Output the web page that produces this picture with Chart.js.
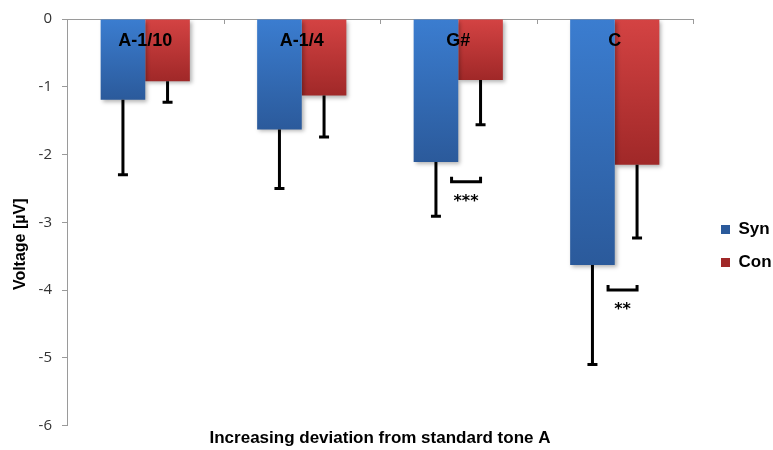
<!DOCTYPE html>
<html>
<head>
<meta charset="utf-8">
<script src="https://cdn.jsdelivr.net/npm/chart.js@4.4.1/dist/chart.umd.min.js"></script>
<style>
  html, body { margin: 0; padding: 0; background: #fff; }
  #wrap { width: 773px; height: 450px; }
</style>
</head>
<body>
<div id="wrap"><canvas id="chart"></canvas></div>
<script>
// ---- data ----
const categories = ['A-1/10', 'A-1/4', 'G#', 'C'];
const synValues = [-1.19, -1.63, -2.11, -3.63];
const conValues = [-0.92, -1.13, -0.90, -2.15];
const synErrors = [1.11, 0.87, 0.80, 1.47];
const conErrors = [0.31, 0.61, 0.66, 1.08];
const yTicks = [0, -1, -2, -3, -4, -5, -6];

// significance marks (category, level in µV, label)
const sigCategories = ['G#', 'C'];
const sigLevels = [-2.4, -4.0];
const sigLabels = ['***', '**'];

const AXIS_GRAY = '#9a9a9a';
const FONT = '"Liberation Sans", Arial, sans-serif';

function barGradient(top, bottom) {
  return (ctx) => {
    const chart = ctx.chart;
    if (!chart.chartArea || ctx.type !== 'data') return top;
    const y = chart.scales.y;
    const y0 = y.getPixelForValue(0);
    const y1 = y.getPixelForValue(ctx.raw);
    if (!isFinite(y0) || !isFinite(y1) || y0 === y1) return top;
    const g = chart.ctx.createLinearGradient(0, y0, 0, y1);
    g.addColorStop(0, top);
    g.addColorStop(1, bottom);
    return g;
  };
}

// soft drop shadow under the bars
const barShadow = {
  id: 'barShadow',
  beforeDatasetsDraw(chart) {
    const c = chart.ctx;
    c.save();
    c.shadowColor = 'rgba(0,0,0,0.3)';
    c.shadowBlur = 4;
    c.shadowOffsetX = 2;
    c.shadowOffsetY = 2;
  },
  afterDatasetsDraw(chart) { chart.ctx.restore(); }
};

// error bars, category names, significance brackets
const overlay = {
  id: 'overlay',
  afterDatasetsDraw(chart) {
    const { ctx, scales: { x, y } } = chart;
    ctx.save();
    ctx.strokeStyle = '#000';
    ctx.lineWidth = 3;

    [synErrors, conErrors].forEach((errs, di) => {
      const meta = chart.getDatasetMeta(di);
      const vals = chart.data.datasets[di].data;
      meta.data.forEach((bar, i) => {
        const yEnd = y.getPixelForValue(vals[i] - errs[i]);
        ctx.beginPath();
        ctx.moveTo(bar.x, bar.y);
        ctx.lineTo(bar.x, yEnd);
        ctx.moveTo(bar.x - 5, yEnd);
        ctx.lineTo(bar.x + 5, yEnd);
        ctx.stroke();
      });
    });

    // small tick marks on the zero axis at category boundaries
    ctx.lineWidth = 1;
    ctx.strokeStyle = AXIS_GRAY;
    for (let i = 1; i <= categories.length; i++) {
      const px = Math.round(x.getPixelForValue(i - 0.5)) + 0.5;
      ctx.beginPath();
      ctx.moveTo(px, y.top);
      ctx.lineTo(px, y.top + 5);
      ctx.stroke();
    }

    // significance brackets
    ctx.strokeStyle = '#000';
    ctx.lineWidth = 3;
    ctx.fillStyle = '#000';
    ctx.textAlign = 'center';
    ctx.textBaseline = 'alphabetic';
    ctx.font = 'bold 16px "DejaVu Sans", sans-serif';
    sigCategories.forEach((cat, k) => {
      const idx = categories.indexOf(cat);
      const syn = chart.getDatasetMeta(0).data[idx];
      const con = chart.getDatasetMeta(1).data[idx];
      const x1 = syn.x + (con.x - syn.x) * 0.35;
      const x2 = con.x;
      const yy = y.getPixelForValue(sigLevels[k]);
      ctx.beginPath();
      ctx.moveTo(x1, yy - 5);
      ctx.lineTo(x1, yy);
      ctx.lineTo(x2, yy);
      ctx.lineTo(x2, yy - 5);
      ctx.stroke();
      ctx.fillText(sigLabels[k], (x1 + x2) / 2, yy + 24);
    });

    // category names inside the top of the plot
    ctx.font = 'bold 18px ' + FONT;
    ctx.textBaseline = 'middle';
    categories.forEach((c, i) => {
      ctx.fillText(c, x.getPixelForValue(i), y.top + 22);
    });
    ctx.restore();
  }
};

// keep the legend narrow and nudge it (and the y title) where the picture has them
const layoutTweaks = {
  id: 'layoutTweaks',
  beforeInit(chart) {
    const fit = chart.legend.fit;
    chart.legend.fit = function () { fit.call(this); this.width = 80; };
  },
  afterLayout(chart) {
    const l = chart.legend;
    l.left += 12; l.right += 12;
    l.top += 12; l.bottom += 12;

    const ys = chart.scales.y;
    if (!ys._titleShifted) {
      const drawTitle = ys.drawTitle;
      ys.drawTitle = function () {
        this.ctx.save();
        this.ctx.translate(0, 22);
        drawTitle.call(this);
        this.ctx.restore();
      };
      ys._titleShifted = true;
    }
  }
};

new Chart(document.getElementById('chart'), {
  type: 'bar',
  data: {
    labels: categories,
    datasets: [
      { label: 'Syn', data: synValues, backgroundColor: barGradient('#3b7dd0', '#2b5a9b'), borderWidth: 0 },
      { label: 'Con', data: conValues, backgroundColor: barGradient('#d44343', '#a02828'), borderWidth: 0 }
    ]
  },
  options: {
    responsive: true,
    maintainAspectRatio: false,
    animation: false,
    layout: { padding: { top: 18, left: 0, right: 0, bottom: 0 } },
    datasets: { bar: { categoryPercentage: 0.57, barPercentage: 1.0 } },
    plugins: {
      legend: {
        position: 'right',
        labels: {
          boxWidth: 9, boxHeight: 9, padding: 16,
          color: '#000',
          font: { family: FONT, size: 17, weight: 'bold' }
        }
      },
      tooltip: { enabled: false }
    },
    scales: {
      x: {
        position: 'top',
        grid: { display: false, drawTicks: false },
        border: { display: true, color: AXIS_GRAY },
        ticks: { display: false }
      },
      x2: {
        type: 'category',
        position: 'bottom',
        grid: { display: false, drawTicks: false },
        border: { display: false },
        ticks: { display: false },
        title: {
          display: true,
          text: 'Increasing deviation from standard tone A',
          color: '#000',
          font: { family: FONT, size: 17, weight: 'bold' },
          padding: { top: 3, bottom: 1 }
        }
      },
      y: {
        min: -6,
        max: 0,
        afterBuildTicks: (scale) => { scale.ticks = yTicks.map(v => ({ value: v })); },
        afterFit: (scale) => { scale.width = 67; },
        grid: { drawOnChartArea: false, drawTicks: true, tickLength: 5, color: AXIS_GRAY },
        border: { display: true, color: AXIS_GRAY },
        ticks: {
          padding: 10,
          color: '#333',
          font: { family: '"Open Sans", sans-serif', size: 15 }
        },
        title: {
          display: true,
          text: 'Voltage [µV]',
          color: '#000',
          font: { family: FONT, size: 16, weight: 'bold' },
          padding: { top: 11, bottom: 0 }
        }
      }
    }
  },
  plugins: [barShadow, overlay, layoutTweaks]
});
</script>
</body>
</html>
